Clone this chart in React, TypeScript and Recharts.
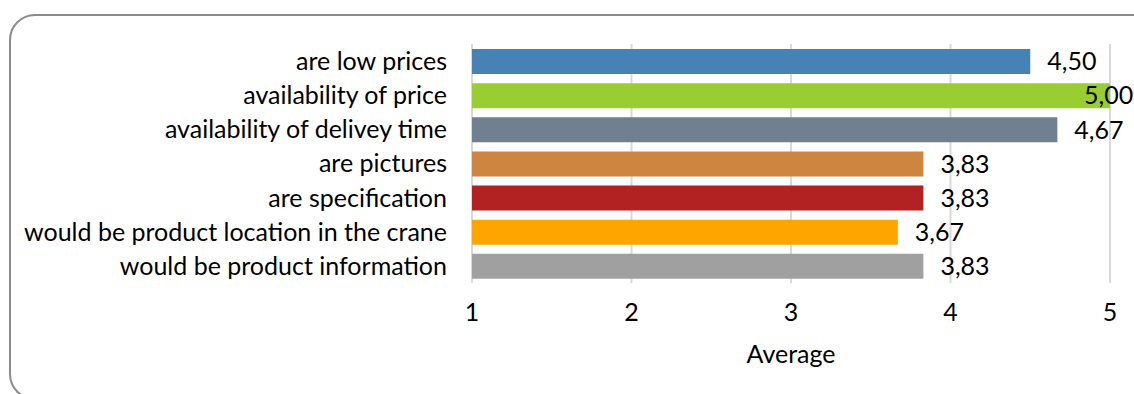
import { Bar, BarChart, CartesianGrid, Cell, LabelList, XAxis, YAxis } from "recharts";

const categories = [
  "are low prices",
  "availability of price",
  "availability of delivey time",
  "are pictures",
  "are specification",
  "would be product location in the crane",
  "would be product information",
];
const averages = [4.5, 5.0, 4.67, 3.83, 3.83, 3.67, 3.83];
const barColors = ["#4682B4", "#9ACD32", "#708090", "#CD853F", "#B22222", "#FFA500", "#A0A0A0"];
const xTicks = [1, 2, 3, 4, 5];

const W = 1134;
const H = 394;
const FONT = "Lato, 'Open Sans', sans-serif";
const FS = 25;

const data = categories.map((name, i) => ({ name, value: averages[i] }));

const fmt = (v: number) => v.toFixed(2).replace(".", ",");

// excel pushes the label back inside when it would leave the plot
function ValueLabel(props: any) {
  const { x, y, width, height, value } = props;
  const labelW = 50;
  const tx = Math.min(x + width + 17, W - labelW);
  return (
    <text x={tx} y={y + height / 2} dy="0.35em" fontSize={FS} fontFamily={FONT} fill="#000">
      {fmt(value)}
    </text>
  );
}

export default function App() {
  return (
    <div style={{ position: "fixed", left: 0, top: 0, width: W, height: H, overflow: "hidden", background: "#fff" }}>
      <div
        style={{
          position: "absolute",
          left: 9,
          top: 14,
          width: W + 40,
          height: 386,
          border: "2px solid #8c8c8c",
          borderRadius: 26,
          boxSizing: "border-box",
        }}
      />
      <div style={{ position: "absolute", left: 0, top: 0 }}>
        <BarChart
          width={W}
          height={H}
          data={data}
          layout="vertical"
          margin={{ top: 44, right: 24, bottom: 26, left: 0 }}
          barSize={25}
        >
          <CartesianGrid horizontal={false} stroke="#d9d9d9" strokeWidth={2} />
          <XAxis
            type="number"
            domain={[1, 5]}
            ticks={xTicks}
            axisLine={false}
            tickLine={false}
            tickSize={0}
            tickMargin={20}
            height={85}
            tick={{ fill: "#000", fontSize: FS, fontFamily: FONT }}
            label={{ value: "Average", position: "insideBottom", offset: 5, fill: "#000", fontSize: FS, fontFamily: FONT }}
          />
          <YAxis
            type="category"
            dataKey="name"
            width={472}
            axisLine={false}
            tickLine={false}
            tickSize={0}
            tickMargin={25}
            interval={0}
            tick={{ fill: "#000", fontSize: FS, fontFamily: FONT }}
          />
          <Bar dataKey="value" isAnimationActive={false}>
            {data.map((d, i) => (
              <Cell key={d.name} fill={barColors[i]} />
            ))}
            <LabelList dataKey="value" content={ValueLabel} />
          </Bar>
        </BarChart>
      </div>
    </div>
  );
}
